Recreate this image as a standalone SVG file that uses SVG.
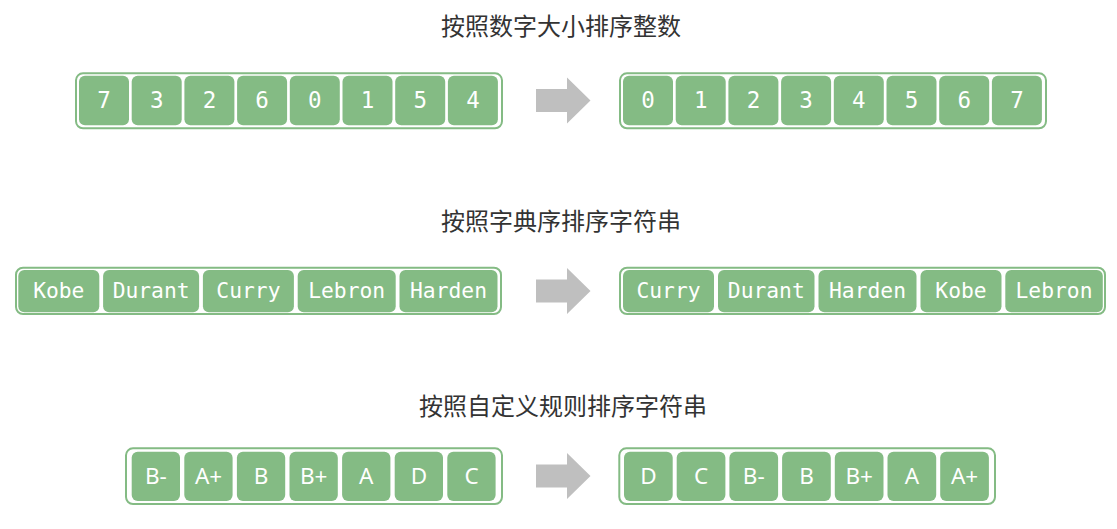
<svg xmlns="http://www.w3.org/2000/svg" width="1117" height="529" viewBox="0 0 1117 529">
<style>
.bg{fill:#ffffff}
.title{font-family:"Noto Sans CJK SC","Noto Sans",sans-serif;font-size:24px;fill:#333333;text-anchor:middle}
.box{fill:#ffffff;stroke:#84bb84;stroke-width:2}
.cell{fill:#84bb84}
.num{font-family:"DejaVu Sans Mono",monospace;font-size:22.5px;fill:#ffffff;text-anchor:middle}
.name{font-family:"DejaVu Sans Mono",monospace;font-size:21.3px;fill:#ffffff;text-anchor:middle}
.grade{font-family:"Noto Sans",sans-serif;font-size:22.5px;fill:#ffffff;text-anchor:middle}
.arrow{fill:#bfbfbf}
</style>
<rect class="bg" x="0" y="0" width="1117" height="529"/>

<text class="title" x="561" y="35">按照数字大小排序整数</text>
<text class="title" x="561" y="230">按照字典序排序字符串</text>
<text class="title" x="563" y="415">按照自定义规则排序字符串</text>

<g id="connectors">
<polygon class="arrow" points="536,89 567,89 567,77.5 590.5,100.5 567,123.5 567,112 536,112"/>
<polygon class="arrow" points="536,279.5 567,279.5 567,268 590.5,291 567,314 567,302.5 536,302.5"/>
<polygon class="arrow" points="536,464.5 567,464.5 567,453 590.5,476 567,499 567,487.5 536,487.5"/>
</g>

<g id="row1-unsorted">
<rect class="box" x="76" y="73.3" width="426" height="55" rx="7"/>
<g id="n1-7"><rect class="cell" x="79" y="75.7" width="50" height="49.5" rx="6"/><text class="num" x="104" y="108">7</text></g>
<g id="n1-3"><rect class="cell" x="131.7" y="75.7" width="50" height="49.5" rx="6"/><text class="num" x="156.7" y="108">3</text></g>
<g id="n1-2"><rect class="cell" x="184.4" y="75.7" width="50" height="49.5" rx="6"/><text class="num" x="209.4" y="108">2</text></g>
<g id="n1-6"><rect class="cell" x="237.1" y="75.7" width="50" height="49.5" rx="6"/><text class="num" x="262.1" y="108">6</text></g>
<g id="n1-0"><rect class="cell" x="289.8" y="75.7" width="50" height="49.5" rx="6"/><text class="num" x="314.8" y="108">0</text></g>
<g id="n1-1"><rect class="cell" x="342.5" y="75.7" width="50" height="49.5" rx="6"/><text class="num" x="367.5" y="108">1</text></g>
<g id="n1-5"><rect class="cell" x="395.2" y="75.7" width="50" height="49.5" rx="6"/><text class="num" x="420.2" y="108">5</text></g>
<g id="n1-4"><rect class="cell" x="447.9" y="75.7" width="50" height="49.5" rx="6"/><text class="num" x="472.9" y="108">4</text></g>
</g>

<g id="row1-sorted">
<rect class="box" x="620" y="73.3" width="426" height="55" rx="7"/>
<g id="s1-0"><rect class="cell" x="623" y="75.7" width="50" height="49.5" rx="6"/><text class="num" x="648" y="108">0</text></g>
<g id="s1-1"><rect class="cell" x="675.7" y="75.7" width="50" height="49.5" rx="6"/><text class="num" x="700.7" y="108">1</text></g>
<g id="s1-2"><rect class="cell" x="728.4" y="75.7" width="50" height="49.5" rx="6"/><text class="num" x="753.4" y="108">2</text></g>
<g id="s1-3"><rect class="cell" x="781.1" y="75.7" width="50" height="49.5" rx="6"/><text class="num" x="806.1" y="108">3</text></g>
<g id="s1-4"><rect class="cell" x="833.8" y="75.7" width="50" height="49.5" rx="6"/><text class="num" x="858.8" y="108">4</text></g>
<g id="s1-5"><rect class="cell" x="886.5" y="75.7" width="50" height="49.5" rx="6"/><text class="num" x="911.5" y="108">5</text></g>
<g id="s1-6"><rect class="cell" x="939.2" y="75.7" width="50" height="49.5" rx="6"/><text class="num" x="964.2" y="108">6</text></g>
<g id="s1-7"><rect class="cell" x="991.9" y="75.7" width="50" height="49.5" rx="6"/><text class="num" x="1016.9" y="108">7</text></g>
</g>

<g id="row2-unsorted">
<rect class="box" x="16" y="267.7" width="485" height="46.3" rx="7"/>
<g id="n2-kobe"><rect class="cell" x="18.3" y="270" width="81" height="42.3" rx="6"/><text class="name" x="58.8" y="297.8">Kobe</text></g>
<g id="n2-durant"><rect class="cell" x="103.1" y="270" width="96" height="42.3" rx="6"/><text class="name" x="151.1" y="297.8">Durant</text></g>
<g id="n2-curry"><rect class="cell" x="202.9" y="270" width="91" height="42.3" rx="6"/><text class="name" x="248.4" y="297.8">Curry</text></g>
<g id="n2-lebron"><rect class="cell" x="297.7" y="270" width="98" height="42.3" rx="6"/><text class="name" x="346.7" y="297.8">Lebron</text></g>
<g id="n2-harden"><rect class="cell" x="399.5" y="270" width="98" height="42.3" rx="6"/><text class="name" x="448.5" y="297.8">Harden</text></g>
</g>

<g id="row2-sorted">
<rect class="box" x="620" y="267.7" width="485" height="46.3" rx="7"/>
<g id="s2-curry"><rect class="cell" x="623" y="270" width="91" height="42.3" rx="6"/><text class="name" x="668.5" y="297.8">Curry</text></g>
<g id="s2-durant"><rect class="cell" x="718" y="270" width="96.5" height="42.3" rx="6"/><text class="name" x="766.3" y="297.8">Durant</text></g>
<g id="s2-harden"><rect class="cell" x="818.5" y="270" width="98" height="42.3" rx="6"/><text class="name" x="867.5" y="297.8">Harden</text></g>
<g id="s2-kobe"><rect class="cell" x="920.5" y="270" width="81" height="42.3" rx="6"/><text class="name" x="961" y="297.8">Kobe</text></g>
<g id="s2-lebron"><rect class="cell" x="1005.3" y="270" width="97.5" height="42.3" rx="6"/><text class="name" x="1054" y="297.8">Lebron</text></g>
</g>

<g id="row3-unsorted">
<rect class="box" x="126" y="448.3" width="376" height="55.7" rx="7"/>
<g id="n3-bminus"><rect class="cell" x="131.7" y="451.7" width="48.3" height="49.3" rx="6"/><text class="grade" x="155.9" y="483.5">B-</text></g>
<g id="n3-aplus"><rect class="cell" x="184.3" y="451.7" width="48.3" height="49.3" rx="6"/><text class="grade" x="208.5" y="483.5">A+</text></g>
<g id="n3-b"><rect class="cell" x="236.9" y="451.7" width="48.3" height="49.3" rx="6"/><text class="grade" x="261.1" y="483.5">B</text></g>
<g id="n3-bplus"><rect class="cell" x="289.5" y="451.7" width="48.3" height="49.3" rx="6"/><text class="grade" x="313.7" y="483.5">B+</text></g>
<g id="n3-a"><rect class="cell" x="342.1" y="451.7" width="48.3" height="49.3" rx="6"/><text class="grade" x="366.3" y="483.5">A</text></g>
<g id="n3-d"><rect class="cell" x="394.7" y="451.7" width="48.3" height="49.3" rx="6"/><text class="grade" x="418.9" y="483.5">D</text></g>
<g id="n3-c"><rect class="cell" x="447.3" y="451.7" width="48.3" height="49.3" rx="6"/><text class="grade" x="471.5" y="483.5">C</text></g>
</g>

<g id="row3-sorted">
<rect class="box" x="619.3" y="448.3" width="375.7" height="55.7" rx="7"/>
<g id="s3-d"><rect class="cell" x="624" y="451.7" width="48.7" height="49.3" rx="6"/><text class="grade" x="648.4" y="483.5">D</text></g>
<g id="s3-c"><rect class="cell" x="676.7" y="451.7" width="48.7" height="49.3" rx="6"/><text class="grade" x="701.1" y="483.5">C</text></g>
<g id="s3-bminus"><rect class="cell" x="729.4" y="451.7" width="48.7" height="49.3" rx="6"/><text class="grade" x="753.8" y="483.5">B-</text></g>
<g id="s3-b"><rect class="cell" x="782.1" y="451.7" width="48.7" height="49.3" rx="6"/><text class="grade" x="806.5" y="483.5">B</text></g>
<g id="s3-bplus"><rect class="cell" x="834.8" y="451.7" width="48.7" height="49.3" rx="6"/><text class="grade" x="859.2" y="483.5">B+</text></g>
<g id="s3-a"><rect class="cell" x="887.5" y="451.7" width="48.7" height="49.3" rx="6"/><text class="grade" x="911.9" y="483.5">A</text></g>
<g id="s3-aplus"><rect class="cell" x="940.2" y="451.7" width="48.7" height="49.3" rx="6"/><text class="grade" x="964.6" y="483.5">A+</text></g>
</g>
</svg>
